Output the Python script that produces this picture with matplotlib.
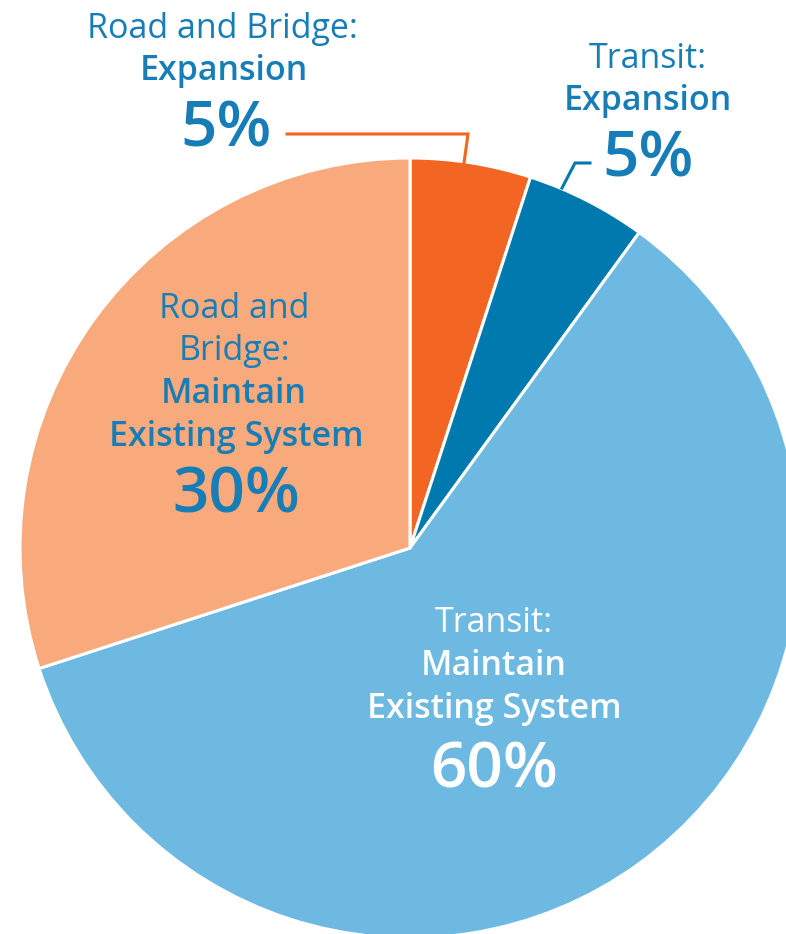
import matplotlib
matplotlib.use("Agg")
import matplotlib.pyplot as plt

categories = ["Road and Bridge: Expansion", "Transit: Expansion",
              "Transit: Maintain Existing System", "Road and Bridge: Maintain Existing System"]
values = [5, 5, 60, 30]
colors = ["#F26522", "#0079AF", "#6DB9E2", "#F9AA7D"]

plt.rcParams['font.family'] = ['Open Sans', 'DejaVu Sans']
TXT = "#167DB6"
FS = 24.5
FP = 46
BW = 'semibold'

W, H = 786, 934
fig = plt.figure(figsize=(W / 100, H / 100), dpi=100)
ax = fig.add_axes([0, 0, 1, 1])

cx, cy, r = 410, H - 548, 390
ax.pie(values, colors=colors, startangle=90, counterclock=False,
       center=(cx, cy), radius=r, frame=True,
       wedgeprops=dict(edgecolor='white', linewidth=2.2))
ax.set_xlim(0, W)
ax.set_ylim(0, H)
ax.set_aspect('equal')
ax.axis('off')

def y(py):
    return H - py

# Road and Bridge: Expansion (outside)
ax.text(222, y(29), "Road and Bridge:", ha='center', va='center', fontsize=FS, color=TXT)
ax.text(224, y(71), "Expansion", ha='center', va='center', fontsize=FS, color=TXT, fontweight=BW)
ax.text(226, y(130), f"{values[0]}%", ha='center', va='center', fontsize=FP, color=TXT, fontweight='semibold')
ax.plot([287, 468, 464], [y(134), y(134), y(163)], color=colors[0], lw=2.2, solid_joinstyle='miter')

# Transit: Expansion (outside)
ax.text(648, y(59), "Transit:", ha='center', va='center', fontsize=FS, color=TXT)
ax.text(648, y(101), "Expansion", ha='center', va='center', fontsize=FS, color=TXT, fontweight=BW)
ax.text(648, y(160), f"{values[1]}%", ha='center', va='center', fontsize=FP, color=TXT, fontweight='semibold')
ax.plot([590, 575, 562], [y(163), y(163), y(188)], color=colors[1], lw=2.2, solid_joinstyle='miter')

# Road and Bridge: Maintain (inside)
ax.text(234, y(309), "Road and", ha='center', va='center', fontsize=FS, color=TXT)
ax.text(234, y(351), "Bridge:", ha='center', va='center', fontsize=FS, color=TXT)
ax.text(234, y(394), "Maintain", ha='center', va='center', fontsize=FS, color=TXT, fontweight=BW)
ax.text(236, y(437), "Existing System", ha='center', va='center', fontsize=FS, color=TXT, fontweight=BW)
ax.text(236, y(496), f"{values[3]}%", ha='center', va='center', fontsize=FP, color=TXT, fontweight='semibold')

# Transit: Maintain (inside)
ax.text(494, y(623), "Transit:", ha='center', va='center', fontsize=FS, color='white')
ax.text(494, y(666), "Maintain", ha='center', va='center', fontsize=FS, color='white', fontweight=BW)
ax.text(494, y(709), "Existing System", ha='center', va='center', fontsize=FS, color='white', fontweight=BW)
ax.text(494, y(771), f"{values[2]}%", ha='center', va='center', fontsize=FP, color='white', fontweight='semibold')

fig.savefig("out.png", dpi=100, facecolor='white')
